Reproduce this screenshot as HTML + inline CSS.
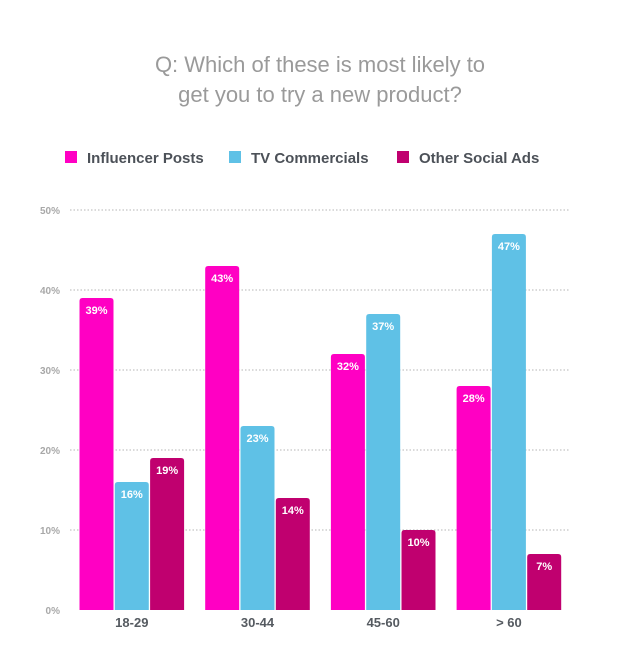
<!DOCTYPE html>
<html><head><meta charset="utf-8"><style>
body{margin:0;background:#fff;font-family:"Liberation Sans",sans-serif}
</style></head><body>
<svg id="chart" width="640" height="652" xmlns="http://www.w3.org/2000/svg">
<text x="320" y="72" text-anchor="middle" font-size="22" fill="#9a9a9a" font-family="Liberation Sans, sans-serif">Q: Which of these is most likely to</text>
<text x="320" y="102" text-anchor="middle" font-size="22" fill="#9a9a9a" font-family="Liberation Sans, sans-serif">get you to try a new product?</text>
<g id="legend"></g>
<g id="grid"></g>
<g id="bars"></g>
</svg>
<script>
const categories = ["18-29","30-44","45-60","> 60"];
const seriesNames = ["Influencer Posts","TV Commercials","Other Social Ads"];
const influencer = [39,43,32,28];
const tv = [16,23,37,47];
const otherSocial = [19,14,10,7];
const yTicks = [0,10,20,30,40,50];
const colors = ["#ff00c3","#5fc1e6","#c0006f"];
const NS="http://www.w3.org/2000/svg";
const svg=document.getElementById('chart');
function el(tag,attrs,parent){const e=document.createElementNS(NS,tag);for(const k in attrs)e.setAttribute(k,attrs[k]);parent.appendChild(e);return e;}
const y0=610, pxPer=8.0;
function yScale(v){return y0-v*pxPer;}
function xGroup(i){return 79.5+i*125.7;}
const bw=34, step=35.3;
const grid=document.getElementById('grid');
yTicks.forEach(t=>{
  if(t>0){const l=el('line',{x1:70,x2:570,y1:yScale(t),y2:yScale(t),stroke:'#b5b5b5','stroke-width':1,'stroke-dasharray':'1.5,2'},grid);
  
  }
  const tx=el('text',{x:60,y:yScale(t)+4,'text-anchor':'end','font-size':10,'font-weight':'bold',fill:'#a8a8a8'},grid);
  tx.textContent=t+'%';
  
  
});
const bars=document.getElementById('bars');
const series=[influencer,tv,otherSocial];
categories.forEach((c,i)=>{
  series.forEach((s,j)=>{
    const x=xGroup(i)+j*step, top=yScale(s[i]), h=y0-top, r=3;
    const p=el('path',{d:`M${x},${y0}V${top+r}Q${x},${top} ${x+r},${top}H${x+bw-r}Q${x+bw},${top} ${x+bw},${top+r}V${y0}Z`,fill:colors[j]},bars);
    
    
    const t=el('text',{x:x+bw/2,y:top+16,'text-anchor':'middle','font-size':11,'font-weight':'bold',fill:'#fff'},bars);
    t.textContent=s[i]+'%';
    
    
  });
  const ct=el('text',{x:xGroup(i)+step+bw/2,y:627,'text-anchor':'middle','font-size':13,'font-weight':'bold',fill:'#555a60'},bars);
  ct.textContent=c;
  
  
});
const legend=document.getElementById('legend');
const lx=[65,229,397];
seriesNames.forEach((n,j)=>{
  const r=el('rect',{x:lx[j],y:151,width:12,height:12,fill:colors[j]},legend);
  
  
  const t=el('text',{x:lx[j]+22,y:163,'font-size':15,'font-weight':'bold',fill:'#4c5158'},legend);
  t.textContent=n;
  
  
});
</script>
</body></html>
